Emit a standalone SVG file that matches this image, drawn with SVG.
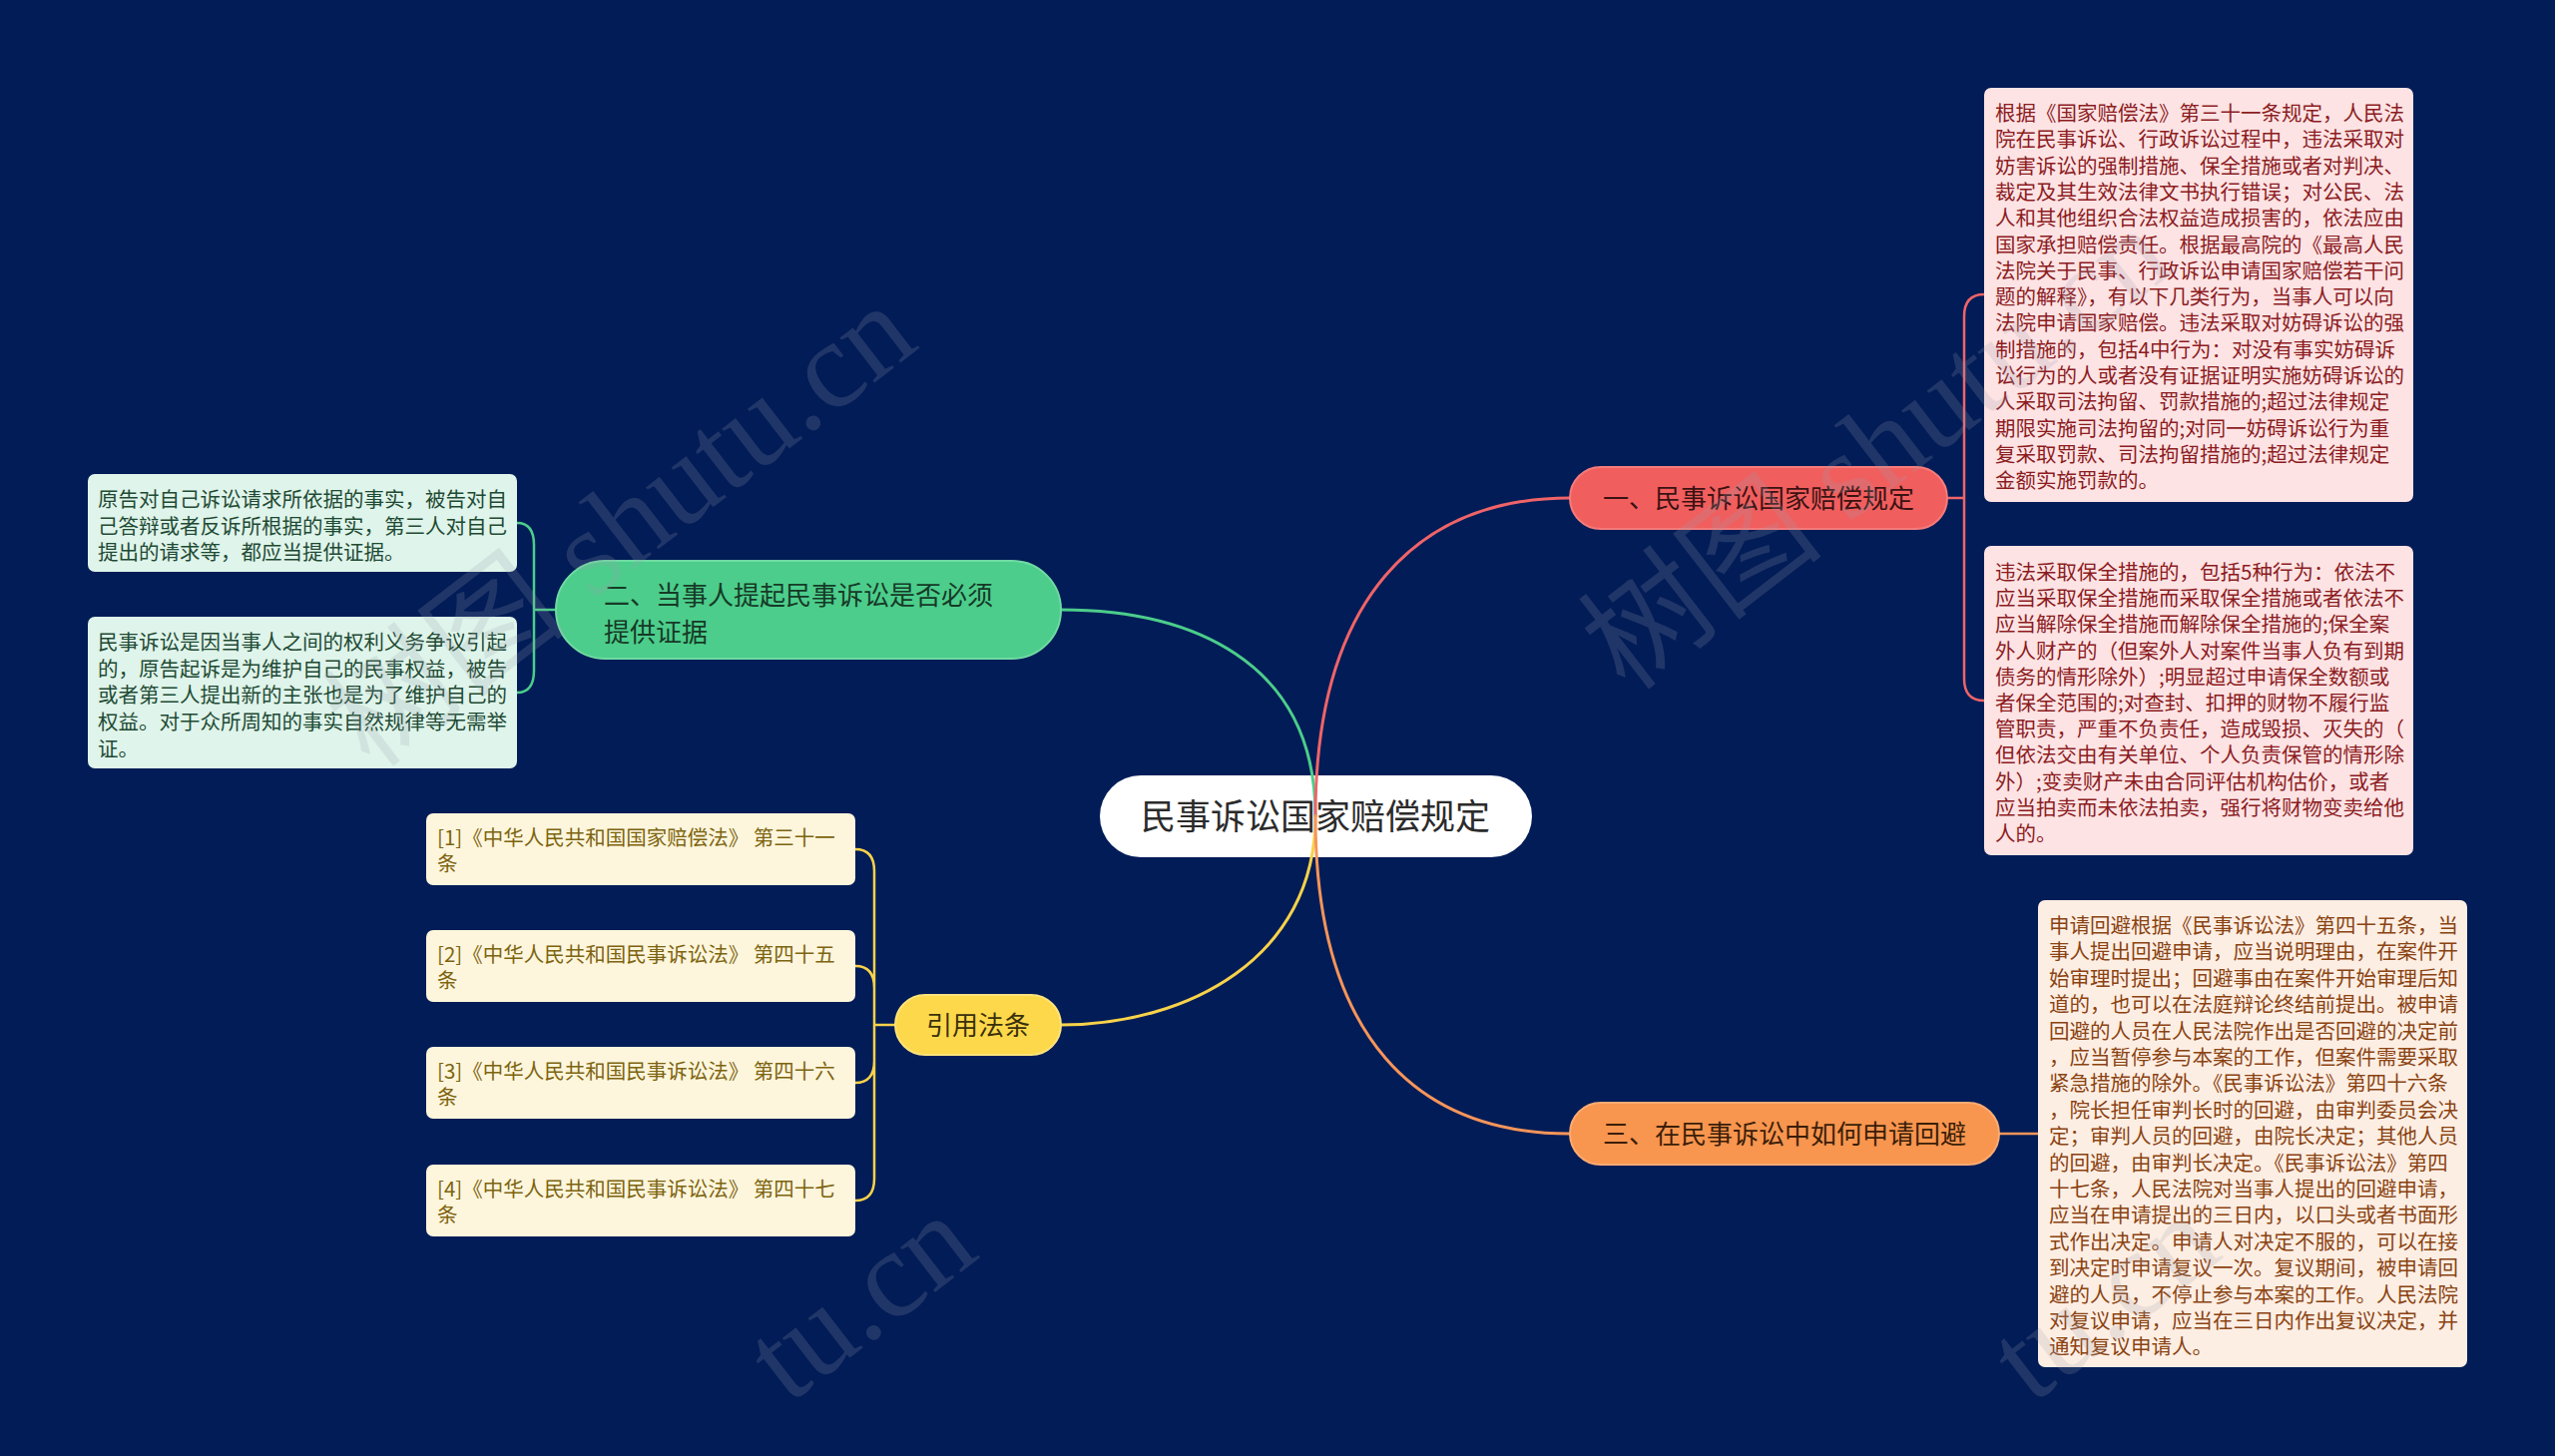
<svg xmlns="http://www.w3.org/2000/svg" width="2560" height="1459" viewBox="0 0 2560 1459">
<defs>
<style>
text{font-family:"Noto Sans CJK SC","Noto Sans",sans-serif;}
.wm{font-family:"Liberation Serif","Noto Sans CJK SC",serif;font-size:124px;fill:#9aa0ae;fill-opacity:0.2;}
.root-t{font-size:35px;fill:#2b2b2b;}
.b-t{font-size:26px;}
.leaf-t{font-size:20.5px;}
.c{fill:none;stroke-linecap:round;}
.main{stroke-width:3;}
.sub{stroke-width:2.5;}
</style>
</defs>
<rect x="0" y="0" width="2560" height="1459" fill="#021c57"/>
<g id="root">
<rect x="1102" y="777" width="433" height="82" rx="41" fill="#ffffff"/>
<text class="root-t" x="1318" y="831" text-anchor="middle">民事诉讼国家赔偿规定</text>
</g>
<g id="connectors">
<path class="c main" stroke="#4ccd8b" d="M1318,818 C1318,660 1190,611 1063,611"/>
<path class="c main" stroke="#ef6468" d="M1318,818 C1318,600 1420,499 1573,499"/>
<path class="c main" stroke="#f8d24a" d="M1318,818 C1318,960 1190,1027 1063,1027"/>
<path class="c main" stroke="#f7955a" d="M1318,818 C1318,1040 1420,1136 1573,1136"/>
<path class="c sub" stroke="#ef6468" d="M1951,499 L1968,499 M1968,499 L1968,317 Q1968,295 1988,295 M1968,499 L1968,680 Q1968,702 1988,702"/>
<path class="c sub" stroke="#f7955a" d="M2003,1136 L2042,1136"/>
<path class="c sub" stroke="#4ccd8b" d="M557,611 L535,611 M535,611 L535,546 Q535,524 518,524 M535,611 L535,672 Q535,694 518,694"/>
<path class="c sub" stroke="#f8d24a" d="M897,1027 L876,1027 M876,1027 L876,873 Q876,851 857,851 M876,1027 L876,990 Q876,968 857,968 M876,1027 L876,1063 Q876,1085 857,1085 M876,1027 L876,1181 Q876,1203 857,1203"/>
</g>
<g id="n1">
<rect x="1573" y="468" width="378" height="62" rx="31" fill="#f15e5e" stroke="#f57b7b" stroke-width="2"/>
<text class="b-t" x="1762" y="509" text-anchor="middle" fill="#3b1212">一、民事诉讼国家赔偿规定</text>
</g>
<g id="n2">
<rect x="557" y="562" width="506" height="98" rx="49" fill="#4ccd8b" stroke="#6fdaa3" stroke-width="2"/>
<text class="b-t" x="605" y="606" fill="#163a27">二、当事人提起民事诉讼是否必须</text>
<text class="b-t" x="605" y="643" fill="#163a27">提供证据</text>
</g>
<g id="n3">
<rect x="1573" y="1105" width="430" height="62" rx="31" fill="#f8954f" stroke="#fbab72" stroke-width="2"/>
<text class="b-t" x="1788" y="1146" text-anchor="middle" fill="#3b1e08">三、在民事诉讼中如何申请回避</text>
</g>
<g id="n4">
<rect x="897" y="997" width="166" height="60" rx="30" fill="#fdd84b" stroke="#fde37a" stroke-width="2"/>
<text class="b-t" x="980" y="1037" text-anchor="middle" fill="#3a300c">引用法条</text>
</g>
<g id="leaf1a">
<rect x="1988" y="88" width="430" height="415" rx="7" fill="#fde3e4"/>
<text class="leaf-t" fill="#8c1c1f">
<tspan x="1999" y="121">根据《国家赔偿法》第三十一条规定，人民法</tspan>
<tspan x="1999" y="147.3">院在民事诉讼、行政诉讼过程中，违法采取对</tspan>
<tspan x="1999" y="173.6">妨害诉讼的强制措施、保全措施或者对判决、</tspan>
<tspan x="1999" y="199.9">裁定及其生效法律文书执行错误；对公民、法</tspan>
<tspan x="1999" y="226.2">人和其他组织合法权益造成损害的，依法应由</tspan>
<tspan x="1999" y="252.5">国家承担赔偿责任。根据最高院的《最高人民</tspan>
<tspan x="1999" y="278.8">法院关于民事、行政诉讼申请国家赔偿若干问</tspan>
<tspan x="1999" y="305.1">题的解释》，有以下几类行为，当事人可以向</tspan>
<tspan x="1999" y="331.4">法院申请国家赔偿。违法采取对妨碍诉讼的强</tspan>
<tspan x="1999" y="357.7">制措施的，包括4中行为：对没有事实妨碍诉</tspan>
<tspan x="1999" y="384">讼行为的人或者没有证据证明实施妨碍诉讼的</tspan>
<tspan x="1999" y="410.3">人采取司法拘留、罚款措施的;超过法律规定</tspan>
<tspan x="1999" y="436.6">期限实施司法拘留的;对同一妨碍诉讼行为重</tspan>
<tspan x="1999" y="462.9">复采取罚款、司法拘留措施的;超过法律规定</tspan>
<tspan x="1999" y="489.2">金额实施罚款的。</tspan>
</text>
</g>
<g id="leaf1b">
<rect x="1988" y="547" width="430" height="310" rx="7" fill="#fde3e4"/>
<text class="leaf-t" fill="#8c1c1f">
<tspan x="1999" y="581">违法采取保全措施的，包括5种行为：依法不</tspan>
<tspan x="1999" y="607.2">应当采取保全措施而采取保全措施或者依法不</tspan>
<tspan x="1999" y="633.4">应当解除保全措施而解除保全措施的;保全案</tspan>
<tspan x="1999" y="659.6">外人财产的（但案外人对案件当事人负有到期</tspan>
<tspan x="1999" y="685.8">债务的情形除外）;明显超过申请保全数额或</tspan>
<tspan x="1999" y="712">者保全范围的;对查封、扣押的财物不履行监</tspan>
<tspan x="1999" y="738.2">管职责，严重不负责任，造成毁损、灭失的（</tspan>
<tspan x="1999" y="764.4">但依法交由有关单位、个人负责保管的情形除</tspan>
<tspan x="1999" y="790.6">外）;变卖财产未由合同评估机构估价，或者</tspan>
<tspan x="1999" y="816.8">应当拍卖而未依法拍卖，强行将财物变卖给他</tspan>
<tspan x="1999" y="843">人的。</tspan>
</text>
</g>
<g id="leaf3">
<rect x="2042" y="902" width="430" height="468" rx="7" fill="#fdeee3"/>
<text class="leaf-t" fill="#8a4312">
<tspan x="2053" y="935">申请回避根据《民事诉讼法》第四十五条，当</tspan>
<tspan x="2053" y="961.4">事人提出回避申请，应当说明理由，在案件开</tspan>
<tspan x="2053" y="987.8">始审理时提出；回避事由在案件开始审理后知</tspan>
<tspan x="2053" y="1014.2">道的，也可以在法庭辩论终结前提出。被申请</tspan>
<tspan x="2053" y="1040.6">回避的人员在人民法院作出是否回避的决定前</tspan>
<tspan x="2053" y="1067">，应当暂停参与本案的工作，但案件需要采取</tspan>
<tspan x="2053" y="1093.4">紧急措施的除外。《民事诉讼法》第四十六条</tspan>
<tspan x="2053" y="1119.8">，院长担任审判长时的回避，由审判委员会决</tspan>
<tspan x="2053" y="1146.2">定；审判人员的回避，由院长决定；其他人员</tspan>
<tspan x="2053" y="1172.6">的回避，由审判长决定。《民事诉讼法》第四</tspan>
<tspan x="2053" y="1199">十七条，人民法院对当事人提出的回避申请，</tspan>
<tspan x="2053" y="1225.4">应当在申请提出的三日内，以口头或者书面形</tspan>
<tspan x="2053" y="1251.8">式作出决定。申请人对决定不服的，可以在接</tspan>
<tspan x="2053" y="1278.2">到决定时申请复议一次。复议期间，被申请回</tspan>
<tspan x="2053" y="1304.6">避的人员，不停止参与本案的工作。人民法院</tspan>
<tspan x="2053" y="1331">对复议申请，应当在三日内作出复议决定，并</tspan>
<tspan x="2053" y="1357.4">通知复议申请人。</tspan>
</text>
</g>
<g id="leaf2a">
<rect x="88" y="475" width="430" height="98" rx="7" fill="#dff4ea"/>
<text class="leaf-t" fill="#1e4a34">
<tspan x="98" y="508">原告对自己诉讼请求所依据的事实，被告对自</tspan>
<tspan x="98" y="534.7">己答辩或者反诉所根据的事实，第三人对自己</tspan>
<tspan x="98" y="561.4">提出的请求等，都应当提供证据。</tspan>
</text>
</g>
<g id="leaf2b">
<rect x="88" y="618" width="430" height="152" rx="7" fill="#dff4ea"/>
<text class="leaf-t" fill="#1e4a34">
<tspan x="98" y="651">民事诉讼是因当事人之间的权利义务争议引起</tspan>
<tspan x="98" y="677.7">的，原告起诉是为维护自己的民事权益，被告</tspan>
<tspan x="98" y="704.4">或者第三人提出新的主张也是为了维护自己的</tspan>
<tspan x="98" y="731.1">权益。对于众所周知的事实自然规律等无需举</tspan>
<tspan x="98" y="757.8">证。</tspan>
</text>
</g>
<g id="ref1">
<rect x="427" y="815" width="430" height="72" rx="7" fill="#fdf6dc"/>
<text class="leaf-t" fill="#7d6410"><tspan x="438" y="847">[1]《中华人民共和国国家赔偿法》 第三十一</tspan><tspan x="438" y="873">条</tspan></text>
</g>
<g id="ref2">
<rect x="427" y="932" width="430" height="72" rx="7" fill="#fdf6dc"/>
<text class="leaf-t" fill="#7d6410"><tspan x="438" y="964">[2]《中华人民共和国民事诉讼法》 第四十五</tspan><tspan x="438" y="990">条</tspan></text>
</g>
<g id="ref3">
<rect x="427" y="1049" width="430" height="72" rx="7" fill="#fdf6dc"/>
<text class="leaf-t" fill="#7d6410"><tspan x="438" y="1081">[3]《中华人民共和国民事诉讼法》 第四十六</tspan><tspan x="438" y="1107">条</tspan></text>
</g>
<g id="ref4">
<rect x="427" y="1167" width="430" height="72" rx="7" fill="#fdf6dc"/>
<text class="leaf-t" fill="#7d6410"><tspan x="438" y="1199">[4]《中华人民共和国民事诉讼法》 第四十七</tspan><tspan x="438" y="1225">条</tspan></text>
</g>
<g id="watermarks">
<text class="wm" transform="translate(372,772) rotate(-37.6)">树图 shutu.cn</text>
<text class="wm" transform="translate(1630,695) rotate(-37.6)">树图 shutu.cn</text>
<text class="wm" transform="translate(790,1408) rotate(-37.6)">tu.cn</text>
<text class="wm" transform="translate(2036,1408) rotate(-37.6)">tu.cn</text>
</g>
</svg>
